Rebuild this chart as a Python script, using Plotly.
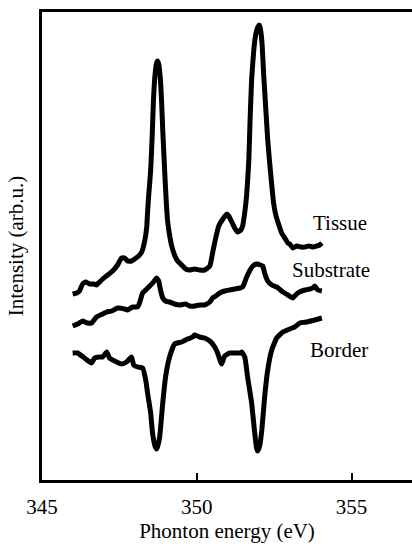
import plotly.graph_objects as go

# Photon energy (eV) and intensity (arb.u.)
tissue_energy = [345.99, 346.12, 346.21, 346.31, 346.41, 346.54, 346.67, 346.76, 346.86, 346.96,
                 347.12, 347.28, 347.44, 347.57, 347.67, 347.76, 347.89, 347.99, 348.12, 348.22,
                 348.31, 348.38, 348.41, 348.44, 348.51, 348.56, 348.60, 348.65, 348.70, 348.73,
                 348.77, 348.82, 348.86, 348.90, 348.96, 349.01, 349.06, 349.12, 349.19, 349.28,
                 349.38, 349.51, 349.64, 349.77, 349.93, 350.09, 350.25, 350.42, 350.51, 350.61,
                 350.71, 350.84, 350.97, 351.03, 351.13, 351.22, 351.32, 351.42, 351.48, 351.55,
                 351.61, 351.68, 351.72, 351.77, 351.84, 351.90, 351.97, 352.02, 352.06, 352.11,
                 352.16, 352.23, 352.29, 352.36, 352.42, 352.48, 352.55, 352.65, 352.74, 352.84,
                 352.94, 353.00, 353.10, 353.23, 353.36, 353.49, 353.62, 353.75, 353.87, 353.97,
                 354.04]
tissue_int = [18.6, 18.7, 18.9, 19.6, 19.8, 19.6, 19.6, 19.5, 19.8, 20.1,
              20.5, 20.9, 21.5, 22.2, 22.2, 21.9, 21.9, 22.1, 22.4, 22.8,
              23.8, 25.2, 26.8, 28.2, 31.0, 34.5, 38.0, 40.5, 41.7, 41.9,
              41.6, 40.2, 38.0, 35.0, 31.0, 28.0, 25.8, 24.5, 23.4, 22.5,
              21.9, 21.5, 21.1, 21.0, 21.1, 21.0, 21.0, 21.4, 22.7, 24.2,
              25.4, 26.1, 26.6, 26.4, 25.8, 25.2, 24.8, 25.0, 25.4, 26.8,
              28.5, 32.0, 36.0, 40.0, 43.0, 44.5, 45.3, 45.5, 45.0, 43.5,
              40.5, 37.0, 34.0, 31.5, 29.5, 27.7, 26.5, 25.5, 24.7, 24.2,
              23.7, 23.6, 23.2, 23.4, 23.3, 23.3, 23.4, 23.3, 23.4, 23.5,
              23.7]

substrate_energy = [345.99, 346.15, 346.31, 346.47, 346.60, 346.76, 346.96, 347.09, 347.25, 347.44,
                    347.67, 347.76, 347.93, 348.09, 348.15, 348.25, 348.38, 348.48, 348.60, 348.70,
                    348.77, 348.80, 348.86, 348.90, 348.99, 349.12, 349.28, 349.45, 349.64, 349.77,
                    349.93, 350.09, 350.25, 350.42, 350.51, 350.61, 350.74, 350.90, 351.06, 351.22,
                    351.39, 351.48, 351.61, 351.72, 351.81, 351.93, 352.06, 352.13, 352.19, 352.29,
                    352.42, 352.58, 352.78, 352.94, 353.10, 353.16, 353.26, 353.49, 353.65, 353.75,
                    353.81, 353.91, 354.04]
substrate_int = [15.4, 15.6, 15.9, 15.7, 15.7, 16.3, 16.6, 16.8, 16.9, 17.2,
                 17.1, 17.0, 17.3, 17.3, 17.7, 18.7, 19.1, 19.4, 19.8, 20.2,
                 19.9, 19.4, 18.6, 18.2, 17.9, 17.8, 17.6, 17.5, 17.6, 17.4,
                 17.4, 17.5, 17.5, 17.8, 18.2, 18.4, 18.7, 18.9, 19.0, 19.1,
                 19.2, 19.3, 20.3, 21.0, 21.4, 21.6, 21.5, 21.4, 20.7, 19.9,
                 19.5, 19.3, 18.8, 18.5, 18.2, 18.4, 18.7, 19.0, 19.1, 19.2,
                 19.4, 19.0, 18.9]

border_energy = [345.99, 346.15, 346.37, 346.60, 346.70, 346.86, 346.96, 347.09, 347.18, 347.41,
                 347.57, 347.73, 347.89, 347.96, 348.09, 348.25, 348.35, 348.41, 348.51, 348.57,
                 348.65, 348.70, 348.73, 348.80, 348.90, 348.99, 349.12, 349.28, 349.51, 349.70,
                 349.87, 349.93, 350.09, 350.25, 350.42, 350.58, 350.67, 350.80, 350.90, 351.06,
                 351.22, 351.39, 351.45, 351.55, 351.64, 351.77, 351.87, 351.93, 351.97, 352.03,
                 352.10, 352.19, 352.29, 352.42, 352.58, 352.78, 353.00, 353.16, 353.33, 353.55,
                 353.81, 354.04]
border_int = [12.7, 12.7, 12.2, 11.7, 12.2, 12.3, 12.3, 12.8, 12.2, 11.8,
              11.6, 11.8, 12.3, 11.5, 11.3, 11.2, 10.0, 8.7, 6.7, 4.7,
              3.4, 3.1, 3.3, 4.3, 7.7, 10.3, 12.3, 13.6, 13.8, 14.1,
              14.3, 14.5, 14.3, 14.2, 13.9, 13.3, 12.7, 11.6, 12.4, 12.7,
              12.7, 12.7, 12.8, 12.3, 10.3, 7.7, 4.7, 3.2, 2.9, 3.4,
              5.0, 8.3, 11.0, 13.0, 14.2, 14.8, 15.1, 15.3, 15.7, 15.8,
              16.0, 16.2]

labels = ["Tissue", "Substrate", "Border"]
label_energy = [354.62, 354.33, 354.59]
label_int = [25.7, 21.0, 13.0]

x_ticks = [345, 350, 355]
x_range = [345, 356.95]
y_range = [0, 46.8]

FONT = "Liberation Serif, Times New Roman, serif"
FS = 21

fig = go.Figure()
for xs, ys in [(tissue_energy, tissue_int), (substrate_energy, substrate_int), (border_energy, border_int)]:
    fig.add_trace(go.Scatter(x=xs, y=ys, mode="lines",
                             line=dict(color="black", width=5, shape="spline", smoothing=0.4),
                             showlegend=False, hoverinfo="skip"))

for t, xe, yi in zip(labels, label_energy, label_int):
    fig.add_annotation(x=xe, y=yi, text=t, showarrow=False,
                       font=dict(family=FONT, size=FS, color="black"),
                       xanchor="center", yanchor="middle")

fig.update_layout(
    width=412, height=544,
    margin=dict(l=42, r=0, t=12, b=64),
    paper_bgcolor="white", plot_bgcolor="white",
    font=dict(family=FONT, size=FS, color="black"),
)
fig.update_xaxes(
    range=x_range, tickvals=x_ticks, ticktext=[str(v) for v in x_ticks],
    ticks="inside", ticklen=7, tickwidth=2, tickcolor="black",
    ticklabelstandoff=6,
    showline=True, linewidth=3, linecolor="black", mirror=True,
    showgrid=False, zeroline=False,
    tickfont=dict(family=FONT, size=FS, color="black"),
    title=dict(text="Phonton energy (eV)", font=dict(family=FONT, size=FS, color="black"), standoff=5),
)
fig.update_yaxes(
    range=y_range, showticklabels=False, ticks="",
    showline=True, linewidth=3, linecolor="black", mirror=False,
    showgrid=False, zeroline=False,
    title=dict(text="Intensity (arb.u.)", font=dict(family=FONT, size=FS, color="black"), standoff=10),
)

fig.write_html("out.html")
